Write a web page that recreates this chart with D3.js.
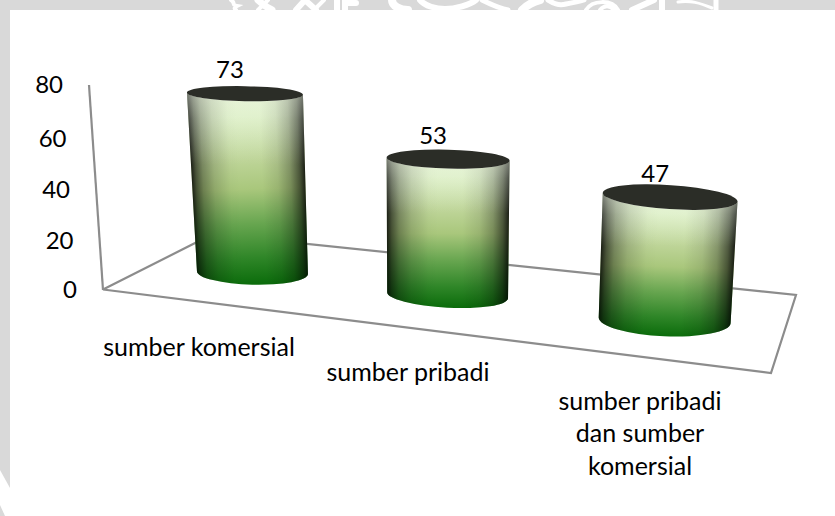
<!DOCTYPE html>
<html><head><meta charset="utf-8">
<script src="https://cdn.jsdelivr.net/npm/d3@7/dist/d3.min.js"></script>
<style>html,body{margin:0;padding:0;background:#fff}svg{display:block}text{font-family:Lato,"Open Sans",sans-serif;fill:#000}</style>
</head><body><svg id="c" width="835" height="516"></svg>
<script>
const categories=[["sumber komersial"],["sumber pribadi"],["sumber pribadi","dan sumber","komersial"]];
const values=[73,53,47];
const tickValues=[0,20,40,60,80];

const svg=d3.select("#c");
const defs=svg.append("defs");
const corner={O:[103,289.5],F:[771,373],R:[796,295],B:[213,234]};

// page backdrop
const gray="#d9d9d9";
svg.append("rect").attr("width",835).attr("height",10).attr("fill",gray);
svg.append("path").attr("fill",gray).attr("d","M0,10H10V488L0,470Z M0,505L5,516H0Z");
const wm=svg.append("g").attr("fill","none").attr("stroke","#fff").attr("stroke-linecap","round");
[["M231,0C236,3 231,5 237,6C233,8 235,9 236,10",4],["M258,0C262,4 266,7 272,10",7],["M268,0L258,10",4],
 ["M296,10L305,0L316,10",6],["M324,0L314,10",4],["M337,10V0M345,10V3H356",6],
 ["M392,0C392,6 400,10 408,10",8],["M420,0C425,6 436,9 445,9C455,9 470,5 476,0",6],
 ["M482,0C490,4 498,8 508,10",5],["M522,10C526,6 532,2 540,0",8],["M548,0C553,3 558,6 566,4C572,3 578,2 584,0",5],
 ["M586,10C592,0 612,-1 618,10M600,10C604,5 610,5 614,10",4],["M632,10L654,0",6],
 ["M662,0V10",6],["M678,2C690,0 700,3 712,8",3],["M716,0V10",5]]
 .forEach(d=>wm.append("path").attr("d",d[0]).attr("stroke-width",d[1]));

// floor + vertical axis
const lines=svg.append("g").attr("fill","none").attr("stroke","#8c8c8c").attr("stroke-width",2.2);
lines.append("path").attr("d",d3.line()([corner.O,corner.F,corner.R,corner.B,corner.O]));

// axis scales
const yPos=d3.scaleLinear().domain(tickValues).range([290,241,190,139,85]);
const axisX=d3.scaleLinear().domain([0,80]).range([103,89]);
lines.append("path").attr("d",d3.line()([[axisX(0),yPos(0)],[axisX(80),yPos(80)]]));

const axisG=svg.append("g").call(d3.axisLeft(yPos).tickValues(tickValues).tickSize(0).tickPadding(0));
axisG.select(".domain").remove();
axisG.attr("font-size",null).attr("font-family",null);
axisG.selectAll(".tick").attr("transform",v=>`translate(${axisX(v)-26},${yPos(v)})`);
axisG.selectAll("text").attr("font-size",24).attr("x",0).attr("dy","0.35em").attr("text-anchor","end");

// floor placement
const lerp=(a,b,t)=>[a[0]+(b[0]-a[0])*t,a[1]+(b[1]-a[1])*t];
const floor=(t,d)=>lerp(lerp(corner.O,corner.F,t),lerp(corner.B,corner.R,t),d);
const T=[.151,.463,.81];
const catT=d3.scaleLinear().domain([0,1,2]).range(T);
const persp=d3.scaleLinear().domain(T).range([.962,1.022,1.045]);
const lean=d3.scaleLinear().domain(T).range([-7.5,.5,5.5]);
const rxTop=d3.scaleLinear().domain(T).range([58,61.5,67.5]);
const rxBot=d3.scaleLinear().domain(T).range([55.5,60.5,66]);
const ryTop=d3.scaleLinear().domain(T).range([7.5,9.5,12]);
const ryBot=d3.scaleLinear().domain(T).range([12,12.5,16]);
const rotTop=d3.scaleLinear().domain(T).range([1,1.4,3.8]);
const rotBot=d3.scaleLinear().domain(T).range([1.5,3,2.5]);

// shared vertical colour ramp
const vStops=[[0,"#e6f7d2"],[.12,"#dff2c8"],[.35,"#bdd497"],[.5,"#a9c77c"],[.68,"#68a650"],[.86,"#2f8628"],[1,"#0b6c0b"]];

const bars=svg.append("g");
values.forEach((v,i)=>{
  const t=catT(i), b=floor(t,.5);
  const h=(yPos(0)-yPos(v))*persp(t);
  const c=[b[0]+lean(t),b[1]-h];
  const rt=rotTop(t)*Math.PI/180, rb=rotBot(t)*Math.PI/180;
  const pt=(o,r,rad,s)=>[o[0]+s*r*Math.cos(rad),o[1]+s*r*Math.sin(rad)];
  const tl=pt(c,rxTop(t),rt,-1),tr=pt(c,rxTop(t),rt,1),bl=pt(b,rxBot(t),rb,-1),br=pt(b,rxBot(t),rb,1);
  const body=`M${tl}L${bl}A${rxBot(t)},${ryBot(t)} ${rotBot(t)} 0 0 ${br}L${tr}A${rxTop(t)},${ryTop(t)} ${rotTop(t)} 0 1 ${tl}Z`;

  const vg=defs.append("linearGradient").attr("id","v"+i).attr("gradientUnits","userSpaceOnUse")
    .attr("x1",c[0]).attr("y1",c[1]).attr("x2",b[0]).attr("y2",b[1]+ryBot(t));
  vStops.forEach(s=>vg.append("stop").attr("offset",s[0]).attr("stop-color",s[1]));

  // side shading runs across the leaning axis of the cylinder
  const ax=b[0]-c[0], ay=b[1]-c[1], len=Math.hypot(ax,ay), w=(rxTop(t)+rxBot(t))/2;
  const nx=ay/len, ny=-ax/len, mx=(b[0]+c[0])/2, my=(b[1]+c[1])/2;
  const hg=defs.append("linearGradient").attr("id","h"+i).attr("gradientUnits","userSpaceOnUse")
    .attr("x1",mx-nx*w).attr("y1",my-ny*w).attr("x2",mx+nx*w).attr("y2",my+ny*w);
  [[0,.85],[.04,.6],[.1,.36],[.2,.16],[.34,.02],[.42,0],[.62,0],[.76,.1],[.87,.3],[.95,.58],[1,.85]]
    .forEach(s=>hg.append("stop").attr("offset",s[0]).attr("stop-color","#000").attr("stop-opacity",s[1]));

  // pale sheen near the top, which keeps the upper edges grey
  const sg=defs.append("linearGradient").attr("id","s"+i).attr("gradientUnits","userSpaceOnUse")
    .attr("x1",c[0]).attr("y1",c[1]).attr("x2",c[0]).attr("y2",c[1]+h*.4);
  [[0,.45],[.35,.22],[1,0]].forEach(s=>sg.append("stop").attr("offset",s[0]).attr("stop-color","#e8efe0").attr("stop-opacity",s[1]));

  const g=bars.append("g");
  g.append("path").attr("d",body).attr("fill",`url(#v${i})`);
  g.append("path").attr("d",body).attr("fill",`url(#h${i})`);
  g.append("path").attr("d",body).attr("fill",`url(#s${i})`);
  g.append("ellipse").attr("cx",0).attr("cy",0).attr("rx",rxTop(t)).attr("ry",ryTop(t))
    .attr("transform",`translate(${c}) rotate(${rotTop(t)})`).attr("fill","#2b2d27");
  svg.append("text").attr("x",c[0]-15).attr("y",c[1]-24).attr("dy","0.35em")
    .attr("text-anchor","middle").attr("font-size",24).text(v);
});

// category labels
const labelX=d3.scaleLinear().domain([0,1,2]).range([199,408,640]);
const labelY=d3.scaleLinear().domain([0,1,2]).range([347,372,401]);
categories.forEach((lines,i)=>{
  const tx=svg.append("text").attr("text-anchor","middle").attr("font-size",25);
  lines.forEach((l,k)=>tx.append("tspan").attr("x",labelX(i)).attr("y",labelY(i)+k*32.5).attr("dy","0.35em").text(l));
});
</script></body></html>
